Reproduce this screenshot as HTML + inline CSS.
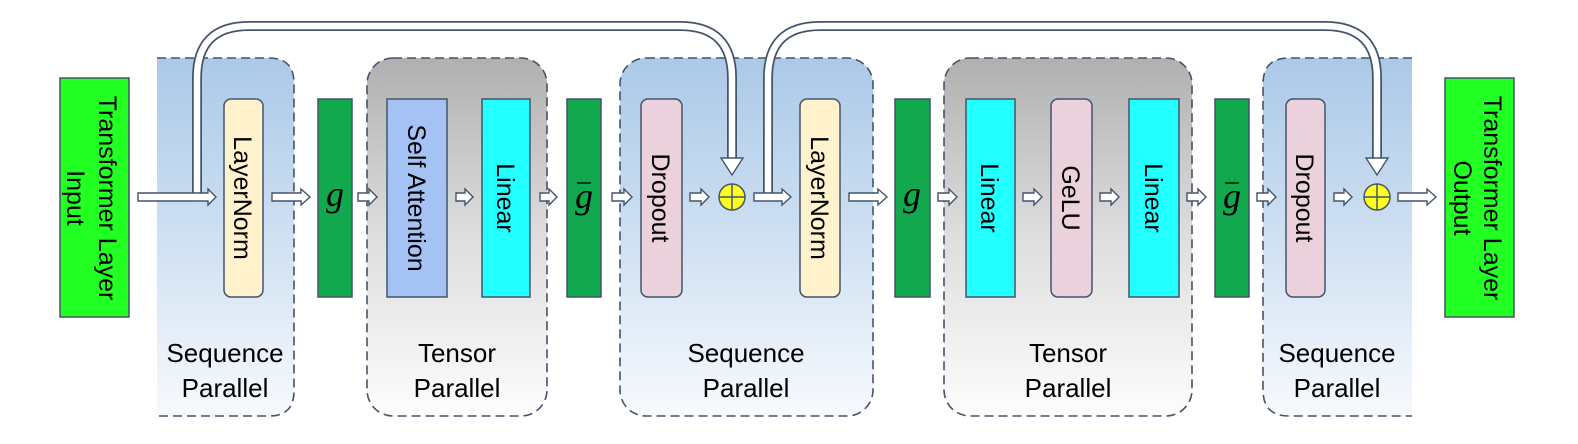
<!DOCTYPE html>
<html><head><meta charset="utf-8"><style>
html,body{margin:0;padding:0;background:#fff;}
svg{display:block;}
text{font-family:"Liberation Sans",sans-serif;fill:#000;}
</style></head><body>
<svg width="1578" height="444" viewBox="0 0 1578 444" xmlns="http://www.w3.org/2000/svg">
<defs>
<linearGradient id="sp" x1="0" y1="0" x2="0" y2="1">
<stop offset="0" stop-color="#abc9e8"/><stop offset="0.5" stop-color="#cfe0f2"/><stop offset="1" stop-color="#f7fafd"/></linearGradient>
<linearGradient id="tp" x1="0" y1="0" x2="0" y2="1">
<stop offset="0" stop-color="#b0b0b0"/><stop offset="0.5" stop-color="#dedede"/><stop offset="1" stop-color="#fdfdfd"/></linearGradient>
</defs>
<g stroke="#44546a" stroke-width="1.6" stroke-dasharray="9,5">
<path d="M157,58 H269 Q294,58 294,83 V391 Q294,416 269,416 H157 Z" fill="url(#sp)" stroke="none"/>
<path d="M157,58 H269 Q294,58 294,83 V391 Q294,416 269,416 H157" fill="none"/>
<rect x="367" y="58" width="180" height="358" rx="26" fill="url(#tp)"/>
<rect x="620" y="58" width="253" height="358" rx="26" fill="url(#sp)"/>
<rect x="944" y="58" width="248" height="358" rx="26" fill="url(#tp)"/>
<path d="M1412,58 H1289 Q1263,58 1263,84 V390 Q1263,416 1289,416 H1412 Z" fill="url(#sp)" stroke="none"/>
<path d="M1412,58 H1289 Q1263,58 1263,84 V390 Q1263,416 1289,416 H1412" fill="none"/>
</g>

<g stroke="#44546a" stroke-width="1.5">
<rect x="60" y="78" width="69" height="239" fill="#22ff22"/>
<rect x="1445" y="78" width="69" height="239" fill="#22ff22"/>
<rect x="224" y="99" width="39" height="198" rx="7" fill="#fff2cc"/>
<rect x="318" y="99" width="34" height="198" fill="#12a84d"/>
<rect x="387" y="99" width="60" height="198" fill="#a4c2f4"/>
<rect x="482" y="99" width="48" height="198" fill="#22ffff"/>
<rect x="567" y="99" width="34" height="198" fill="#12a84d"/>
<rect x="641" y="99" width="41" height="198" rx="7" fill="#ead1dc"/>
<rect x="800" y="99" width="40" height="198" rx="7" fill="#fff2cc"/>
<rect x="895" y="99" width="35" height="198" fill="#12a84d"/>
<rect x="966" y="99" width="49" height="198" fill="#22ffff"/>
<rect x="1051" y="99" width="41" height="198" rx="7" fill="#ead1dc"/>
<rect x="1129" y="99" width="50" height="198" fill="#22ffff"/>
<rect x="1215" y="99" width="34" height="198" fill="#12a84d"/>
<rect x="1286" y="99" width="39" height="198" rx="7" fill="#ead1dc"/>
</g>

<g font-size="25" text-anchor="middle">
<text transform="translate(108,198) rotate(90)" dy="9">Transformer Layer</text>
<text transform="translate(76,198) rotate(90)" dy="9">Input</text>
<text transform="translate(1493,198) rotate(90)" dy="9">Transformer Layer</text>
<text transform="translate(1463,198) rotate(90)" dy="9">Output</text>
<text transform="translate(243,198) rotate(90)" dy="9">LayerNorm</text>
<text transform="translate(417,198) rotate(90)" dy="9">Self Attention</text>
<text transform="translate(506,198) rotate(90)" dy="9">Linear</text>
<text transform="translate(661,198) rotate(90)" dy="9">Dropout</text>
<text transform="translate(820,198) rotate(90)" dy="9">LayerNorm</text>
<text transform="translate(990,198) rotate(90)" dy="9">Linear</text>
<text transform="translate(1071,198) rotate(90)" dy="9">GeLU</text>
<text transform="translate(1154,198) rotate(90)" dy="9">Linear</text>
<text transform="translate(1305,198) rotate(90)" dy="9">Dropout</text>
</g>
<g font-style="italic" font-size="36" text-anchor="middle">
<text x="335" y="206" style="font-family:'Liberation Serif',serif">g</text>
<text x="584" y="208" style="font-family:'Liberation Serif',serif">g</text>
<text x="912" y="206" style="font-family:'Liberation Serif',serif">g</text>
<text x="1232" y="208" style="font-family:'Liberation Serif',serif">g</text>
</g>
<line x1="577" y1="183" x2="591" y2="183" stroke="#000" stroke-width="1.3"/>
<line x1="1225" y1="183" x2="1239" y2="183" stroke="#000" stroke-width="1.3"/>

<g font-size="26" text-anchor="middle">
<text x="225" y="362">Sequence</text><text x="225" y="397">Parallel</text>
<text x="457" y="362">Tensor</text><text x="457" y="397">Parallel</text>
<text x="746" y="362">Sequence</text><text x="746" y="397">Parallel</text>
<text x="1068" y="362">Tensor</text><text x="1068" y="397">Parallel</text>
<text x="1337" y="362">Sequence</text><text x="1337" y="397">Parallel</text>
</g>

<g fill="none" stroke-linejoin="round">
<path d="M197,200 V78 Q197,26 249,26 H680 Q732,26 732,78 V160" stroke="#44546a" stroke-width="10"/>
<path d="M197,202 V78 Q197,26 249,26 H680 Q732,26 732,78 V162" stroke="#fff" stroke-width="6.5"/>
<path d="M768,200 V78 Q768,26 820,26 H1325 Q1377,26 1377,78 V160" stroke="#44546a" stroke-width="10"/>
<path d="M768,202 V78 Q768,26 820,26 H1325 Q1377,26 1377,78 V162" stroke="#fff" stroke-width="6.5"/>
</g>
<g fill="#fff" stroke="#44546a" stroke-width="1.4">
<polygon points="721,158 743,158 732,175"/>
<polygon points="1366,158 1388,158 1377,175"/>
</g>

<g fill="#fff" stroke="#44546a" stroke-width="1.4">
<polygon points="138,193 208,193 208,189 216,197 208,205 208,201 138,201"/>
<polygon points="272,193 301,193 301,189 310,197 301,205 301,201 272,201"/>
<polygon points="358,193 369,193 369,189 377,197 369,205 369,201 358,201"/>
<polygon points="456,193 465,193 465,189 473,197 465,205 465,201 456,201"/>
<polygon points="540,193 549,193 549,189 557,197 549,205 549,201 540,201"/>
<polygon points="612,193 624,193 624,189 632,197 624,205 624,201 612,201"/>
<polygon points="690,193 701,193 701,189 709,197 701,205 701,201 690,201"/>
<polygon points="754,193 782,193 782,189 791,197 782,205 782,201 754,201"/>
<polygon points="849,193 878,193 878,189 887,197 878,205 878,201 849,201"/>
<polygon points="938,193 949,193 949,189 957,197 949,205 949,201 938,201"/>
<polygon points="1023,193 1034,193 1034,189 1042,197 1034,205 1034,201 1023,201"/>
<polygon points="1100,193 1111,193 1111,189 1119,197 1111,205 1111,201 1100,201"/>
<polygon points="1187,193 1198,193 1198,189 1206,197 1198,205 1198,201 1187,201"/>
<polygon points="1257,193 1268,193 1268,189 1276,197 1268,205 1268,201 1257,201"/>
<polygon points="1334,193 1344,193 1344,189 1352,197 1344,205 1344,201 1334,201"/>
<polygon points="1398,193 1427,193 1427,189 1436,197 1427,205 1427,201 1398,201"/>
</g>
<rect x="194" y="194" width="6" height="6" fill="#fff"/>
<rect x="765" y="194" width="6" height="6" fill="#fff"/>

<g stroke="#44546a" stroke-width="1.5">
<circle cx="732" cy="197" r="13" fill="#ffff22"/>
<line x1="719" y1="197" x2="745" y2="197"/><line x1="732" y1="184" x2="732" y2="210"/>
<circle cx="1377" cy="197" r="13" fill="#ffff22"/>
<line x1="1364" y1="197" x2="1390" y2="197"/><line x1="1377" y1="184" x2="1377" y2="210"/>
</g>
</svg>
</body></html>
